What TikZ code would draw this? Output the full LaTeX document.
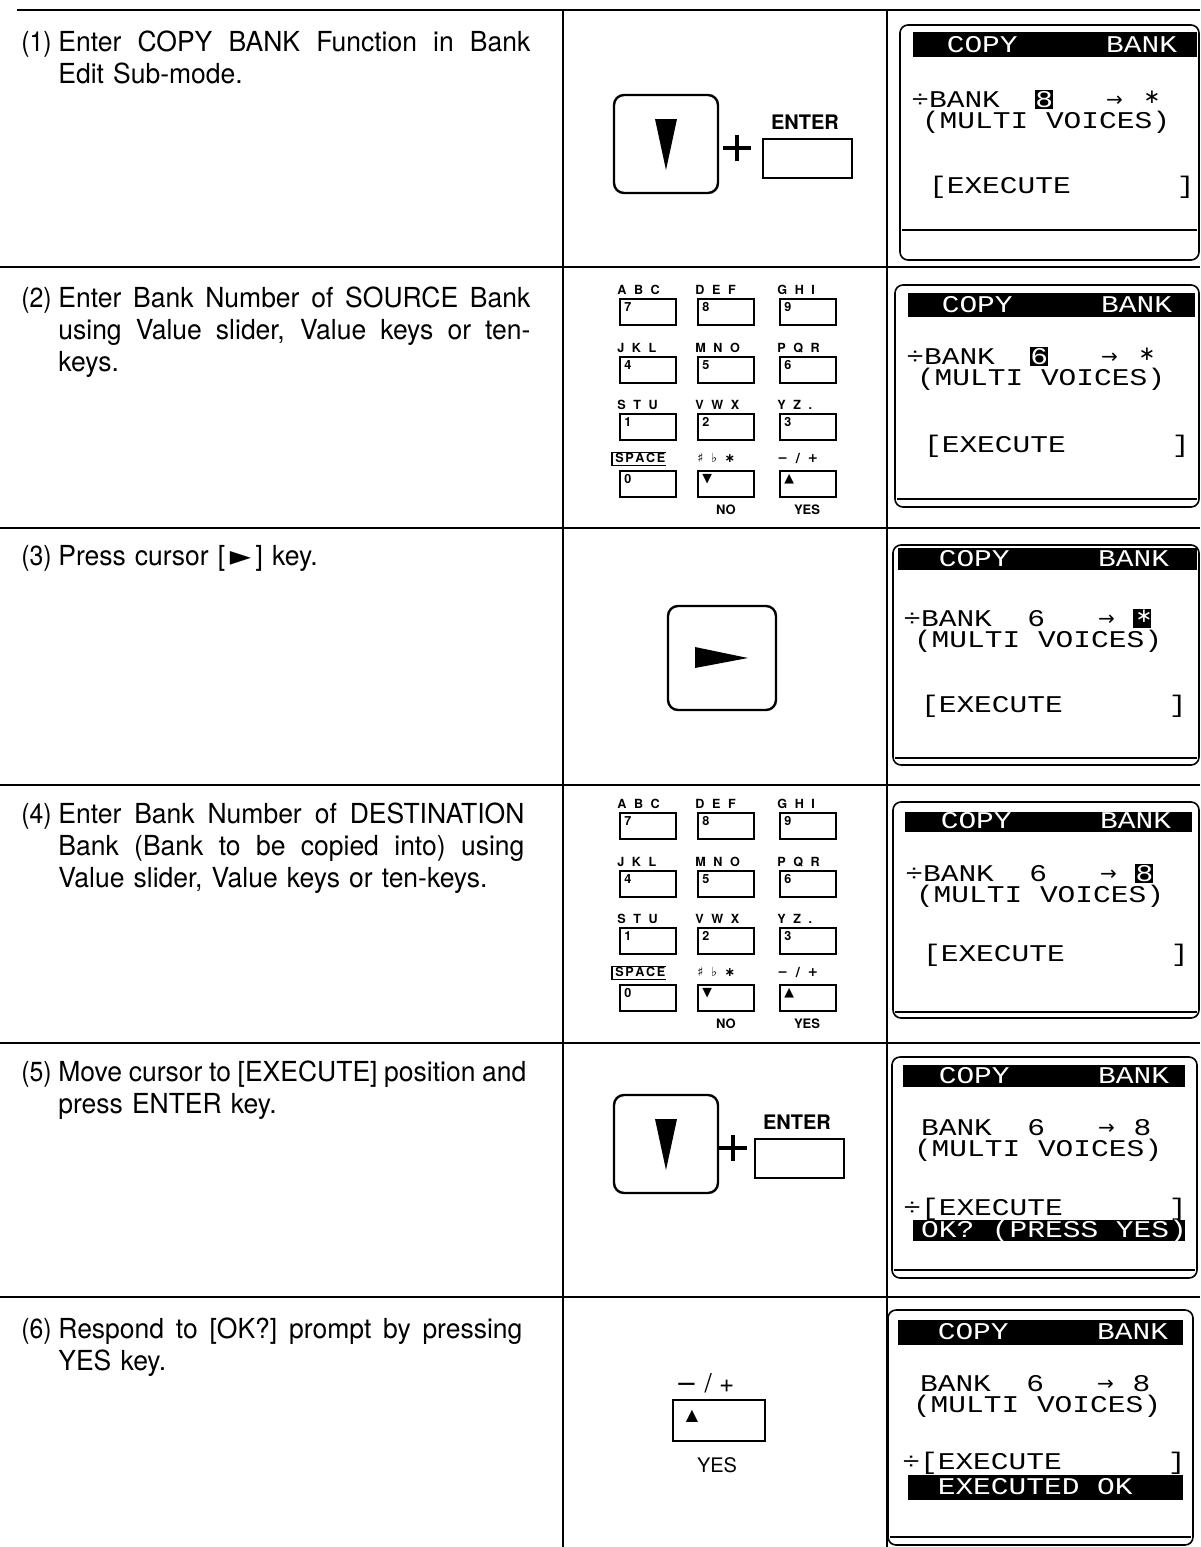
\documentclass[tikz,border=0pt]{standalone}
\usepackage{fontspec}
\setmainfont{TeX Gyre Heros}[FakeStretch=0.96]
\newfontfamily\labelfont{TeX Gyre Heros}[FakeStretch=0.9]
\newfontfamily\lcdfont{Liberation Mono}[FakeStretch=1.23]
\newfontfamily\symfont{DejaVu Sans}
\newfontfamily\keyfont{TeX Gyre Heros}
\newcommand\spacelbl{S\kern0.8pt P\kern0.8pt A\kern0.8pt C\kern0.8pt E}
\tikzset{
  tableline/.style={line width=1pt},
  para/.style={anchor=base west, inner sep=0pt, align=justify,
    font={\fontsize{13.8}{16}\selectfont\spaceskip=0.33em plus 1em minus 0.12em\relax}},
  lbl/.style={anchor=base west, inner sep=0pt, font=\labelfont\fontsize{13.8}{16}\selectfont},
  lcd/.style={anchor=base west, inner sep=0pt, font=\lcdfont\fontsize{12}{12}\selectfont},
  lcdsym/.style={anchor=base west, inner sep=0pt, font=\symfont\fontsize{10}{10}\selectfont},
  screenbox/.style={line width=0.8pt, rounded corners=4pt},
  innerline/.style={line width=0.6pt},
  bigkey/.style={line width=1.2pt, rounded corners=5pt},
  keyline/.style={line width=1.1pt},
  klabel/.style={anchor=base west, inner sep=0pt, font={\keyfont\bfseries\fontsize{6.3}{7}\selectfont\spaceskip=0.6em\relax}},
  kdigit/.style={anchor=west, inner sep=0pt, font=\keyfont\bfseries\fontsize{6.3}{7}\selectfont},
  kname/.style={anchor=center, inner sep=0pt, font=\keyfont\bfseries\fontsize{6.5}{7}\selectfont},
}
% LCD text: name, x0, column, baseline, text
\newcommand\LT[5]{\node[lcd] (#1) at ({#2+#3*17.7},#4) {#5};}
% LCD arrow and asterisk
\newcommand\LA[4]{\node[lcdsym] (#1) at ({#2+#3*17.7},#4-1) {→};}
\newcommand\LS[4]{\node[lcdsym] (#1) at ({#2+#3*17.7+2},#4-4) {∗};}
% highlighted LCD char
\newcommand\LH[5]{\fill ({#2+#3*17.7},#4+2) rectangle ({#2+(#3+1)*17.7},#4-17);
  \node[lcd,text=white] (#1) at ({#2+#3*17.7},#4) {#5};}
\newcommand\LHS[4]{\fill ({#2+#3*17.7},#4+2) rectangle ({#2+(#3+1)*17.7},#4-17);
  \node[lcdsym,text=white] (#1) at ({#2+#3*17.7+2},#4-4) {∗};}
% keypad key: name, left, top, label, digit
\newcommand\kp[5]{\draw[keyline] (#2,#3) rectangle (#2+56,#3+26);
  \node[klabel] (#1l) at (#2-3,#3-5) {#4};
  \node[kdigit] (#1d) at (#2+4,#3+8) {#5};}
\newcommand\keypad[2]{\begin{scope}[shift={(0,#2)}]
  \kp{#1a}{620}{299}{A B C}{7}
  \kp{#1b}{698}{299}{D E F}{8}
  \kp{#1c}{780}{299}{G H I}{9}
  \kp{#1d}{620}{357}{J K L}{4}
  \kp{#1e}{698}{357}{M N O}{5}
  \kp{#1f}{780}{357}{P Q R}{6}
  \kp{#1g}{620}{414}{S T U}{1}
  \kp{#1h}{698}{414}{V W X}{2}
  \kp{#1i}{780}{414}{Y Z .}{3}
  \draw[keyline] (620,471) rectangle (676,497);
  \node[kdigit] (#1jd) at (624,479) {0};
  \node[klabel] (#1jl) at (615,462) {\spacelbl};
  \draw[line width=0.6pt] (#1jl.north east) -- ([xshift=-1.5pt]#1jl.north west) -- ([xshift=-1.5pt,yshift=-1.5pt]#1jl.south west) -- ([yshift=-1.5pt]#1jl.south east);
  \draw[keyline] (698,471) rectangle (754,497);
  \node[kdigit] (#1kd) at (702,479) {\symfont ▼};
  \node[klabel] (#1kl) at (697,462) {\symfont ♯ ♭ ∗};
  \draw[keyline] (780,471) rectangle (836,497);
  \node[kdigit] (#1md) at (784,479) {\symfont ▲};
  \node[klabel] (#1ml) at (777,462) {\symfont − / +};
  \node[kname] (#1no) at (726,510) {NO};
  \node[kname] (#1yes) at (807,510) {YES};
\end{scope}}
\begin{document}
\begin{tikzpicture}[x=0.5pt,y=-0.5pt]
\useasboundingbox (0,0) rectangle (1200,1547);
% ---------- table ----------
\draw[tableline] (17,10) -- (1200,10);
\draw[tableline] (563,10) -- (563,1547);
\draw[tableline] (887,10) -- (887,1547);
\foreach \yy in {267,528,785,1043,1297} \draw[tableline] (0,\yy) -- (1200,\yy);

% ---------- left column ----------
\node[lbl] (n1) at (21,51) {(1)};
\node[para, text width=236pt] (t1) at (58,51) {Enter COPY BANK Function in Bank\linebreak Edit Sub-mode.};
\node[lbl] (n2) at (21,307) {(2)};
\node[para, text width=236pt] (t2) at (58,307) {Enter Bank Number of SOURCE Bank\linebreak using Value slider, Value keys or ten-\linebreak keys.};
\node[lbl] (n3) at (21,565) {(3)};
\node[para, text width=236pt] (t3) at (58,565) {Press cursor [\,{\symfont ►}\,] key.};
\node[lbl] (n4) at (21,823) {(4)};
\node[para, text width=233pt] (t4) at (58,823) {Enter Bank Number of DESTINATION\linebreak Bank (Bank to be copied into) using\linebreak Value slider, Value keys or ten-keys.};
\node[lbl] (n5) at (21,1081) {(5)};
\node[para, text width=234pt] (t5) at (58,1081) {Move cursor to [EXECUTE] position and\linebreak press ENTER key.};
\node[lbl] (n6) at (21,1338) {(6)};
\node[para, text width=232pt] (t6) at (58,1338) {Respond to [OK?] prompt by pressing\linebreak YES key.};

% ---------- middle column ----------
% step 1
\draw[bigkey] (614,95) rectangle (718,193);
\fill (655,119) -- (677,119) -- (666,170) -- cycle;
\draw[line width=2pt] (723,148) -- (751,148) (737,135) -- (737,161);
\draw[line width=1.2pt] (763,139) rectangle (852,178);
\node[font=\keyfont\bfseries\fontsize{10}{12}\selectfont, inner sep=0pt] (ent1) at (805,122) {ENTER};
% step 2
\keypad{kpa}{0}
% step 3
\draw[bigkey] (668,606) rectangle (776,710);
\fill (695,647) -- (695,668) -- (748,658) -- cycle;
% step 4
\keypad{kpb}{514}
% step 5
\draw[bigkey] (614,1095) rectangle (718,1193);
\fill (655,1119) -- (677,1119) -- (666,1170) -- cycle;
\draw[line width=2pt] (719,1148) -- (747,1148) (733,1135) -- (733,1161);
\draw[line width=1.2pt] (755,1139) rectangle (844,1178);
\node[font=\keyfont\bfseries\fontsize{10}{12}\selectfont, inner sep=0pt] (ent5) at (797,1122) {ENTER};
% step 6
\node[font=\keyfont\fontsize{13}{14}\selectfont, inner sep=0pt] (pm6) at (705,1383) {{\symfont −} / +};
\draw[line width=1.4pt] (673,1400) rectangle (765,1441);
\node[inner sep=0pt, font=\symfont\fontsize{8}{8}\selectfont] (tri6) at (692,1416) {▲};
\node[font=\keyfont\fontsize{10}{12}\selectfont, inner sep=0pt] (yes6) at (717,1465) {YES};

% ---------- right column: LCD screens ----------
% screen 1
\draw[screenbox] (900,25) rectangle (1199,260);
\draw[innerline] (902,230) -- (1197,230);
\fill (913,32) rectangle (1197,57);
\LT{a1}{911}{2}{52}{\color{white}COPY}
\LT{a2}{911}{11}{52}{\color{white}BANK}
\LT{a3}{911}{0}{107}{÷}
\LT{a4}{911}{1}{107}{BANK}
\LH{a5}{911}{7}{107}{8}
\LA{a6}{911}{11}{107}
\LS{a7}{911}{13}{107}
\LT{a8}{911}{0.6}{128}{(MULTI VOICES)}
\LT{a9}{911}{1}{193}{[EXECUTE}
\LT{a10}{911}{15}{193}{]}
% screen 2
\draw[screenbox] (895,285) rectangle (1199,507);
\draw[innerline] (897,499) -- (1197,499);
\fill (908,293) rectangle (1195,317);
\LT{b1}{906}{2}{312}{\color{white}COPY}
\LT{b2}{906}{11}{312}{\color{white}BANK}
\LT{b3}{906}{0}{364}{÷}
\LT{b4}{906}{1}{364}{BANK}
\LH{b5}{906}{7}{364}{6}
\LA{b6}{906}{11}{364}
\LS{b7}{906}{13}{364}
\LT{b8}{906}{0.6}{385}{(MULTI VOICES)}
\LT{b9}{906}{1}{452}{[EXECUTE}
\LT{b10}{906}{15}{452}{]}
% screen 3
\draw[screenbox] (893,545) rectangle (1199,765);
\draw[innerline] (895,758) -- (1197,758);
\fill (898,548) rectangle (1197,570);
\LT{c1}{903}{2}{566}{\color{white}COPY}
\LT{c2}{903}{11}{566}{\color{white}BANK}
\LT{c3}{903}{0}{626}{÷}
\LT{c4}{903}{1}{626}{BANK}
\LT{c5}{903}{7}{626}{6}
\LA{c6}{903}{11}{626}
\LHS{c7}{903}{13}{626}
\LT{c8}{903}{0.6}{647}{(MULTI VOICES)}
\LT{c9}{903}{1}{712}{[EXECUTE}
\LT{c10}{903}{15}{712}{]}
% screen 4
\draw[screenbox] (893,802) rectangle (1199,1018);
\draw[innerline] (895,1012) -- (1197,1012);
\fill (905,812) rectangle (1192,832);
\LT{d1}{905}{2}{828}{\color{white}COPY}
\LT{d2}{905}{11}{828}{\color{white}BANK}
\LT{d3}{905}{0}{881}{÷}
\LT{d4}{905}{1}{881}{BANK}
\LT{d5}{905}{7}{881}{6}
\LA{d6}{905}{11}{881}
\LH{d7}{905}{13}{881}{8}
\LT{d8}{905}{0.6}{902}{(MULTI VOICES)}
\LT{d9}{905}{1}{961}{[EXECUTE}
\LT{d10}{905}{15}{961}{]}
% screen 5
\draw[screenbox] (892,1057) rectangle (1197,1278);
\draw[innerline] (894,1270) -- (1195,1270);
\fill (903,1065) rectangle (1185,1087);
\LT{e1}{903}{2}{1083}{\color{white}COPY}
\LT{e2}{903}{11}{1083}{\color{white}BANK}
\LT{e4}{903}{1}{1135}{BANK}
\LT{e5}{903}{7}{1135}{6}
\LA{e6}{903}{11}{1135}
\LT{e7}{903}{13}{1135}{8}
\LT{e8}{903}{0.6}{1156}{(MULTI VOICES)}
\LT{e3}{903}{0}{1215}{÷}
\LT{e9}{903}{1}{1215}{[EXECUTE}
\LT{e10}{903}{15}{1215}{]}
\fill (913,1220) rectangle (1185,1241);
\LT{e11}{903}{1}{1237}{\color{white}OK? (PRESS YES)}
% screen 6
\draw[screenbox] (888,1310) rectangle (1193,1545);
\draw[innerline] (890,1537) -- (1191,1537);
\fill (898,1320) rectangle (1183,1345);
\LT{f1}{902}{2}{1339}{\color{white}COPY}
\LT{f2}{902}{11}{1339}{\color{white}BANK}
\LT{f4}{902}{1}{1391}{BANK}
\LT{f5}{902}{7}{1391}{6}
\LA{f6}{902}{11}{1391}
\LT{f7}{902}{13}{1391}{8}
\LT{f8}{902}{0.6}{1412}{(MULTI VOICES)}
\LT{f3}{902}{0}{1469}{÷}
\LT{f9}{902}{1}{1469}{[EXECUTE}
\LT{f10}{902}{15}{1469}{]}
\fill (908,1475) rectangle (1183,1500);
\LT{f11}{902}{2}{1494}{\color{white}EXECUTED OK}
\end{tikzpicture}
\end{document}
